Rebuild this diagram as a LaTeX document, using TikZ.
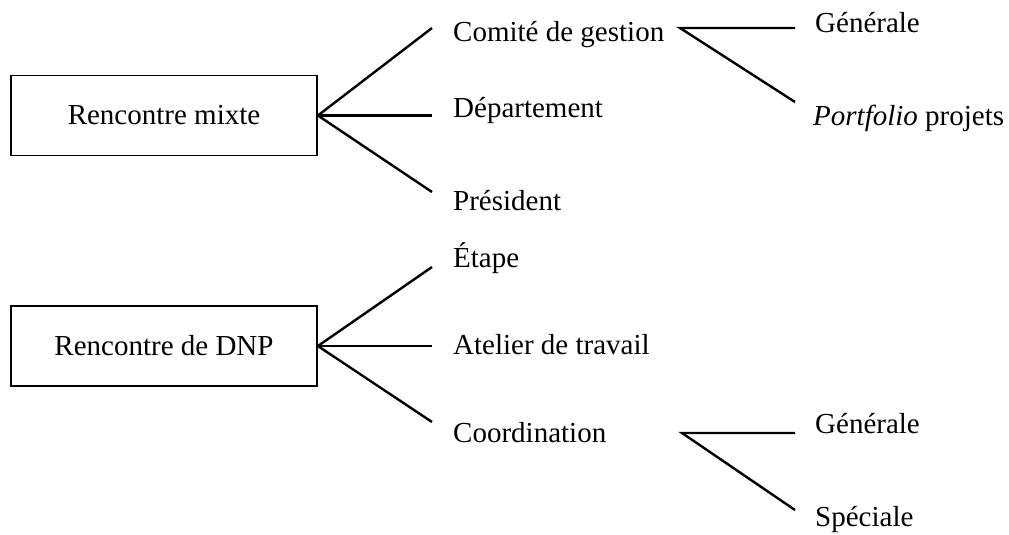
\documentclass[tikz,border=0pt]{standalone}
\usepackage{fontspec}
\setmainfont{Liberation Serif}
\begin{document}
\begin{tikzpicture}[x=1pt,y=-1pt,
  lbl/.style={anchor=base west,inner sep=0pt,font=\fontsize{29}{32}\selectfont},
  boxnode/.style={draw,line width=1.8pt,minimum width=306pt,minimum height=80pt,inner sep=0pt,font=\fontsize{29}{32}\selectfont},
  conn/.style={line width=2.4pt}]
\useasboundingbox (0,0) rectangle (1009,535);
% box 1
\node[boxnode] (b1) at (164,115.5) {Rencontre mixte};
\node[lbl] (comite) at (453,42) {Comité de gestion};
\node[lbl] (dept) at (453,117) {Département};
\node[lbl] (pres) at (453,210) {Président};
\coordinate (e11) at (432,28);
\coordinate (e12) at (432,115.5);
\coordinate (e13) at (432,192);
\draw[conn] (e11) -- (b1.east) -- (e13);
\draw[conn] (b1.east) -- (e12);
% second fan
\coordinate (a2) at (680,28);
\coordinate (e21) at (795,28);
\coordinate (e22) at (795,102);
\node[lbl] (gen1) at (815,33) {Générale};
\node[lbl] (port) at (813,125) {\textit{Portfolio} projets};
\draw[conn] (e21) -- (a2) -- (e22);
% box 2
\node[boxnode] (b2) at (164,346) {Rencontre de DNP};
\node[lbl] (etape) at (453,267) {Étape};
\node[lbl] (atel) at (453,354) {Atelier de travail};
\node[lbl] (coord) at (453,442) {Coordination};
\coordinate (e31) at (432,267);
\coordinate (e32) at (432,346);
\coordinate (e33) at (432,422);
\draw[conn] (e31) -- (b2.east) -- (e33);
\draw[conn] (b2.east) -- (e32);
% third fan
\coordinate (a4) at (682,433);
\coordinate (e41) at (795,433);
\coordinate (e42) at (795,510);
\node[lbl] (gen2) at (815,433) {Générale};
\node[lbl] (spec) at (815,526) {Spéciale};
\draw[conn] (e41) -- (a4) -- (e42);
\end{tikzpicture}
\end{document}
